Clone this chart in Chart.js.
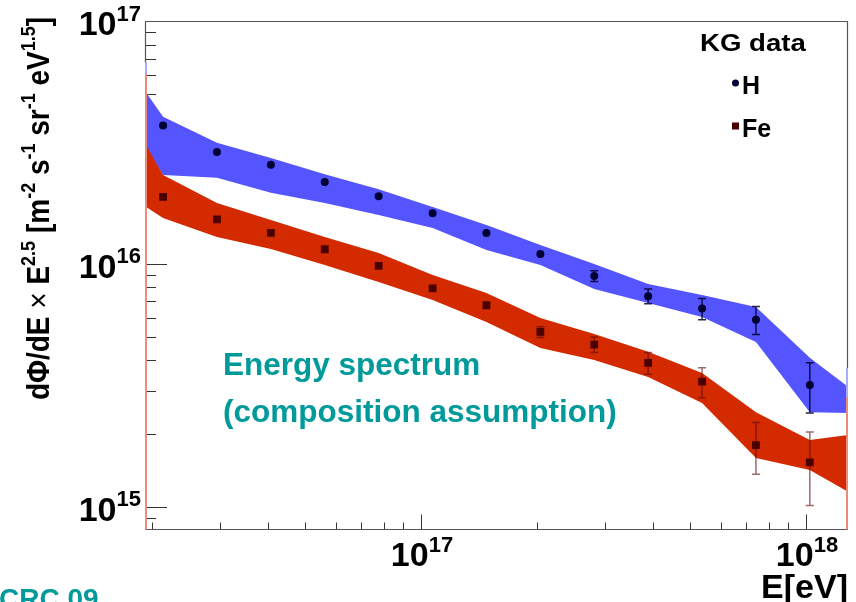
<!DOCTYPE html>
<html>
<head>
<meta charset="utf-8">
<script src="https://cdn.jsdelivr.net/npm/chart.js@4/dist/chart.umd.min.js"></script>
<style>
  html, body { margin: 0; padding: 0; background: #fff; }
  canvas { display: block; }
</style>
</head>
<body>
<canvas id="spectrum" width="856" height="602"></canvas>
<script>
// KG unfolded points, E^2.5-weighted flux, per primary assumption
const energy = [2.138e16, 2.951e16, 4.074e16, 5.623e16, 7.762e16, 1.072e17, 1.479e17, 2.042e17, 2.818e17, 3.890e17, 5.370e17, 7.413e17, 1.023e18];
const fluxH = [3.71e16, 2.89e16, 2.56e16, 2.17e16, 1.90e16, 1.615e16, 1.34e16, 1.098e16, 8.91e15, 7.36e15, 6.54e15, 5.89e15, 3.17e15];
const errH = [0, 0, 0, 0, 0, 0, 0, 0, 0.45e15, 0.52e15, 0.65e15, 0.78e15, 0.74e15];
const fluxFe = [1.885e16, 1.525e16, 1.34e16, 1.148e16, 9.8e15, 7.93e15, 6.75e15, 5.24e15, 4.65e15, 3.91e15, 3.27e15, 1.79e15, 1.52e15];
const errFe = [0, 0, 0, 0, 0, 0, 0, 0.27e15, 0.34e15, 0.40e15, 0.46e15, 0.43e15, 0.51e15];

// systematic bands; one node beyond each side of the frame so they run to the edge
const bandEnergy = [1.549e16, 2.138e16, 2.951e16, 4.074e16, 5.623e16, 7.762e16, 1.072e17, 1.479e17, 2.042e17, 2.818e17, 3.890e17, 5.370e17, 7.413e17, 1.023e18, 1.413e18];
const bandHHigh = [8.35e16, 4.03e16, 3.15e16, 2.73e16, 2.34e16, 2.03e16, 1.714e16, 1.445e16, 1.196e16, 9.99e15, 8.26e15, 7.44e15, 6.64e15, 4.10e15, 2.78e15];
const bandHLow = [5.40e16, 2.32e16, 2.26e16, 1.96e16, 1.78e16, 1.589e16, 1.405e16, 1.14e16, 9.89e15, 7.88e15, 6.90e15, 6.04e15, 4.76e15, 2.45e15, 2.42e15];
const bandFeHigh = [5.71e16, 2.32e16, 1.78e16, 1.516e16, 1.29e16, 1.108e16, 9.00e15, 7.59e15, 5.98e15, 5.14e15, 4.34e15, 3.55e15, 2.45e15, 1.88e15, 2.01e15];
const bandFeLow = [2.15e16, 1.545e16, 1.29e16, 1.151e16, 9.89e15, 8.42e15, 7.10e15, 5.76e15, 4.50e15, 4.02e15, 3.42e15, 2.67e15, 1.587e15, 1.416e15, 1.056e15];

// axis ranges and labelled decades
const xRange = [1.919e16, 1.2855e18];
const yRange = [8.05e14, 1.0e17];
const xTicks = [1e17, 1e18];
const xTickExp = ['17', '18'];
const yTicks = [1e15, 1e16, 1e17];
const yTickExp = ['15', '16', '17'];

const FONT = '"Liberation Sans", Arial, Helvetica, sans-serif';
const BLUE = '#5555ff';
const RED = '#d32a00';
const TEAL = '#009a9a';

const pts = (xs, ys) => xs.map((v, i) => ({ x: v, y: ys[i] }));

function minorTicks(range) {
  const out = [];
  for (let d = 1e14; d <= 1e18; d *= 10) {
    for (let m = 2; m <= 9; m++) {
      const v = m * d;
      if (v > range[0] && v < range[1]) out.push(v);
    }
  }
  return out;
}

function drawPower(ctx, exp, x, y, align) {
  ctx.font = 'bold 34px ' + FONT;
  const w1 = ctx.measureText('10').width;
  ctx.font = 'bold 22px ' + FONT;
  const w2 = ctx.measureText(exp).width;
  let left = x;
  if (align === 'right') left = x - w1 - w2;
  if (align === 'center') left = x - (w1 + w2) / 2;
  ctx.font = 'bold 34px ' + FONT;
  ctx.fillText('10', left, y);
  ctx.font = 'bold 22px ' + FONT;
  ctx.fillText(exp, left + w1, y - 14.5);
}

const rootStyle = {
  id: 'rootStyle',
  beforeDatasetsDraw(chart) {
    const { ctx, chartArea: a, scales: { x, y } } = chart;
    ctx.save();
    ctx.strokeStyle = '#333';
    ctx.lineWidth = 1;
    ctx.beginPath();
    yTicks.forEach(v => {
      const py = Math.round(y.getPixelForValue(v)) + 0.5;
      ctx.moveTo(a.left, py); ctx.lineTo(a.left + 22, py);
    });
    minorTicks(yRange).forEach(v => {
      const py = Math.round(y.getPixelForValue(v)) + 0.5;
      ctx.moveTo(a.left, py); ctx.lineTo(a.left + 11, py);
    });
    xTicks.forEach(v => {
      const px = Math.round(x.getPixelForValue(v)) + 0.5;
      ctx.moveTo(px, a.bottom); ctx.lineTo(px, a.bottom - 15);
    });
    minorTicks(xRange).forEach(v => {
      const px = Math.round(x.getPixelForValue(v)) + 0.5;
      ctx.moveTo(px, a.bottom); ctx.lineTo(px, a.bottom - 7);
    });
    ctx.stroke();
    ctx.restore();
  },
  beforeDatasetDraw(chart, args) {
    const ds = chart.data.datasets[args.index];
    if (!ds.errors) return;
    const { ctx, scales: { x, y } } = chart;
    ctx.save();
    ctx.strokeStyle = ds.errorColor;
    ctx.lineWidth = 1.5;
    ctx.beginPath();
    ds.data.forEach((p, i) => {
      const e = ds.errors[i];
      if (!e) return;
      const px = x.getPixelForValue(p.x);
      const top = y.getPixelForValue(p.y + e);
      const bot = y.getPixelForValue(p.y - e);
      ctx.moveTo(px, top); ctx.lineTo(px, bot);
      ctx.moveTo(px - 4, top); ctx.lineTo(px + 4, top);
      ctx.moveTo(px - 4, bot); ctx.lineTo(px + 4, bot);
    });
    ctx.stroke();
    ctx.restore();
  },
  afterDatasetsDraw(chart) {
    const { ctx, chartArea: a } = chart;
    ctx.save();
    // frame
    ctx.strokeStyle = '#555';
    ctx.lineWidth = 1.2;
    ctx.beginPath();
    ctx.moveTo(a.left, a.top + 0.5); ctx.lineTo(a.right, a.top + 0.5);
    ctx.moveTo(a.left, a.bottom); ctx.lineTo(a.right, a.bottom);
    ctx.moveTo(a.left + 0.5, a.top); ctx.lineTo(a.left + 0.5, a.top + 41);
    ctx.moveTo(a.right - 0.5, a.top); ctx.lineTo(a.right - 0.5, a.top + 347);
    ctx.stroke();
    ctx.lineWidth = 2;
    ctx.strokeStyle = '#aaaaff';
    ctx.beginPath();
    ctx.moveTo(a.left + 1, a.top + 41); ctx.lineTo(a.left + 1, a.top + 53);
    ctx.moveTo(a.right - 1, a.top + 347); ctx.lineTo(a.right - 1, a.top + 376);
    ctx.stroke();
    ctx.strokeStyle = '#eb8c78';
    ctx.beginPath();
    ctx.moveTo(a.left + 1, a.top + 53); ctx.lineTo(a.left + 1, a.bottom);
    ctx.moveTo(a.right - 1, a.top + 376); ctx.lineTo(a.right - 1, a.bottom);
    ctx.stroke();
    ctx.restore();
  },
  afterDraw(chart) {
    const { ctx, chartArea: a, scales: { x, y } } = chart;
    ctx.save();
    ctx.fillStyle = '#000';
    ctx.textBaseline = 'alphabetic';
    ctx.textAlign = 'left';

    // tick labels
    yTicks.forEach((v, i) => drawPower(ctx, yTickExp[i], 141, y.getPixelForValue(v) + 14, 'right'));
    xTicks.forEach((v, i) => drawPower(ctx, xTickExp[i], x.getPixelForValue(v) + 1, 566, 'center'));

    // x title
    ctx.font = 'bold 34px ' + FONT;
    ctx.textAlign = 'right';
    ctx.fillText('E[eV]', a.right, 598);
    ctx.textAlign = 'left';

    // y title, rotated, with superscripts; glyphs a little taller than wide
    const MAIN = 'bold 28px ' + FONT;
    const SUP = 'bold 18px ' + FONT;
    const runs = [
      ['d\u03A6/dE ', MAIN], ['\u00D7', '28px ' + FONT], [' E', MAIN], ['2.5', SUP],
      [' [m', MAIN], ['-2', SUP], [' s', MAIN], ['-1', SUP], [' sr', MAIN], ['-1', SUP],
      [' eV', MAIN], ['1.5', SUP], [']', MAIN]
    ];
    let total = 0;
    runs.forEach(r => { ctx.font = r[1]; total += ctx.measureText(r[0]).width; });
    ctx.translate(49, 208.5);
    ctx.rotate(-Math.PI / 2);
    ctx.scale(1, 1.15);
    let cx = -total / 2;
    runs.forEach(r => {
      ctx.font = r[1];
      ctx.fillText(r[0], cx, r[1] === SUP ? -12 : 0);
      cx += ctx.measureText(r[0]).width;
    });
    ctx.setTransform(1, 0, 0, 1, 0, 0);

    // legend
    ctx.save();
    ctx.font = 'bold 24px ' + FONT;
    ctx.translate(700, 51);
    ctx.scale(1.15, 1);
    ctx.fillText('KG data', 0, 0);
    ctx.restore();
    const entries = chart.data.datasets.filter(d => d.errors);
    entries.forEach((d, i) => {
      const cy = 83 + i * 43;
      ctx.fillStyle = d.pointBackgroundColor;
      if (d.pointStyle === 'rect') {
        ctx.fillRect(732, cy - 3.5, 7, 7);
      } else {
        ctx.beginPath(); ctx.arc(735.5, cy, 3.5, 0, Math.PI * 2); ctx.fill();
      }
      ctx.fillStyle = '#000';
      ctx.font = 'bold 25px ' + FONT;
      ctx.fillText(d.label, 742, cy + 10.5);
    });

    // annotation
    ctx.fillStyle = TEAL;
    ctx.font = 'bold 31.5px ' + FONT;
    ctx.fillText('Energy spectrum', 223, 375);
    ctx.fillText('(composition assumption)', 223, 421.5);
    ctx.font = 'bold 28px ' + FONT;
    ctx.fillText('CRC 09', -1, 608);
    ctx.restore();
  }
};

new Chart(document.getElementById('spectrum'), {
  type: 'line',
  data: {
    datasets: [
      { label: 'H band', data: pts(bandEnergy, bandHHigh), fill: '+1', backgroundColor: BLUE, borderColor: 'rgba(0,0,0,0)', borderWidth: 0, pointRadius: 0, order: 4 },
      { label: 'H band low', data: pts(bandEnergy, bandHLow), fill: false, borderColor: 'rgba(0,0,0,0)', borderWidth: 0, pointRadius: 0, order: 4 },
      { label: 'Fe band', data: pts(bandEnergy, bandFeHigh), fill: '+1', backgroundColor: RED, borderColor: 'rgba(0,0,0,0)', borderWidth: 0, pointRadius: 0, order: 3 },
      { label: 'Fe band low', data: pts(bandEnergy, bandFeLow), fill: false, borderColor: 'rgba(0,0,0,0)', borderWidth: 0, pointRadius: 0, order: 3 },
      { label: 'H', data: pts(energy, fluxH), errors: errH, errorColor: 'rgba(0,0,40,0.85)', showLine: false, pointStyle: 'circle', pointRadius: 4, pointBorderWidth: 0, pointBackgroundColor: '#000033', borderColor: '#000033', order: 1 },
      { label: 'Fe', data: pts(energy, fluxFe), errors: errFe, errorColor: 'rgba(90,10,10,0.6)', showLine: false, pointStyle: 'rect', pointRadius: 5.5, pointBorderWidth: 0, pointBackgroundColor: '#4a0000', borderColor: '#4a0000', order: 0 }
    ]
  },
  options: {
    responsive: false,
    animation: false,
    events: [],
    layout: { padding: { left: 145, right: 8, top: 21, bottom: 72.5 } },
    plugins: { legend: { display: false }, tooltip: { enabled: false } },
    elements: { line: { tension: 0 } },
    scales: {
      x: { type: 'logarithmic', min: xRange[0], max: xRange[1], display: false },
      y: { type: 'logarithmic', min: yRange[0], max: yRange[1], display: false }
    }
  },
  plugins: [rootStyle]
});
</script>
</body>
</html>
